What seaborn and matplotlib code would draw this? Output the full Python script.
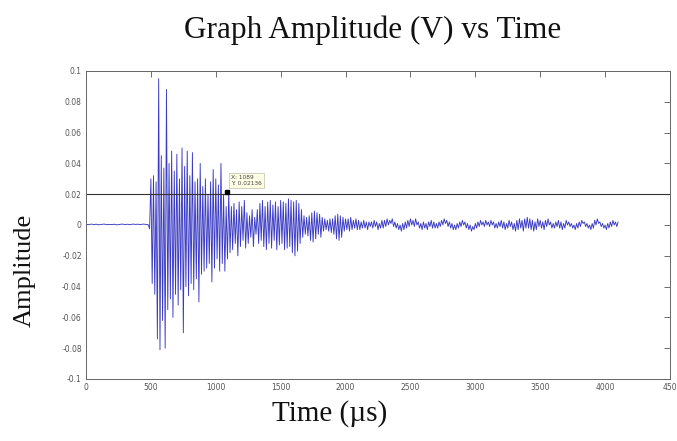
import numpy as np
import pandas as pd
import matplotlib
matplotlib.use("Agg")
import matplotlib.pyplot as plt
import seaborn as sns

# ---------------- data ----------------
# pre-trigger noise, 0..490 us (20 us steps)
t_pre = [0, 20, 40, 60, 80, 100, 120, 140, 160, 180, 200, 220, 240, 260, 280,
         300, 320, 340, 360, 380, 400, 420, 440, 460, 480, 490]
v_pre = [0.0005, 0.0002, 0.0006, 0.0003, 0.0005, 0.0001, 0.0004, 0.0006, 0.0002, 0.0004,
         0.0003, 0.0005, 0.0001, 0.0004, 0.0006, 0.0003, 0.0005, 0.0002, 0.0006, 0.0004,
         0.0005, 0.0003, 0.0006, 0.0004, 0.0002, -0.0025]

# burst, 500..2090 us (10 us steps)
t_burst_start, t_burst_step = 500, 10
v_burst = [
    0.030, -0.038, 0.032, -0.045, 0.028, -0.074, 0.095, -0.081, 0.045, -0.062,   # 500
    0.037, -0.080, 0.088, -0.055, 0.040, -0.048, 0.048, -0.060, 0.035, -0.045,   # 600
    0.046, -0.052, 0.030, -0.042, 0.050, -0.070, 0.038, -0.040, 0.048, -0.046,   # 700
    0.032, -0.038, 0.047, -0.042, 0.028, -0.035, 0.030, -0.050, 0.040, -0.032,   # 800
    0.025, -0.030, 0.030, -0.028, 0.020, -0.025, 0.028, -0.037, 0.036, -0.028,   # 900
    0.030, -0.022, 0.026, -0.030, 0.040, -0.025, 0.020, -0.030, 0.012, -0.022,   # 1000
    0.021, -0.018, 0.012, -0.016, 0.014, -0.012, 0.010, -0.020, 0.015, -0.014,   # 1100
    0.012, -0.010, 0.016, -0.015, 0.008, -0.012, 0.006, -0.008, 0.010, -0.014,   # 1200
    0.005, -0.006, 0.010, -0.012, 0.014, -0.010, 0.016, -0.014, 0.012, -0.016,   # 1300
    0.015, -0.012, 0.016, -0.015, 0.013, -0.010, 0.015, -0.016, 0.012, -0.013,   # 1400
    0.016, -0.012, 0.015, -0.016, 0.014, -0.015, 0.017, -0.014, 0.016, -0.018,   # 1500
    0.015, -0.020, 0.016, -0.017, 0.014, -0.012, 0.010, -0.008, 0.006, -0.006,   # 1600
    0.005, -0.007, 0.006, -0.010, 0.008, -0.011, 0.009, -0.009, 0.008, -0.006,   # 1700
    0.007, -0.008, 0.005, -0.004, 0.004, -0.003, 0.003, -0.004, 0.004, -0.005,   # 1800
    0.004, -0.006, 0.006, -0.009, 0.007, -0.010, 0.006, -0.008, 0.005, -0.004,   # 1900
    0.004, -0.003, 0.004, -0.004, 0.005, -0.003, 0.003, -0.002, 0.004, -0.003,   # 2000
]

# tail, 2100..4100 us (10 us steps)
t_tail_start, t_tail_step = 2100, 10
v_tail = [
    0.003, -0.003, 0.002, -0.002, 0.003, -0.002, 0.002, -0.003, 0.002, -0.001,   # 2100
    0.002, -0.002, 0.003, -0.001, 0.002, -0.003, 0.001, -0.002, 0.003, -0.002,   # 2200
    0.003, -0.001, 0.004, 0.000, 0.003, 0.001, 0.004, -0.001, 0.002, -0.002,     # 2300
    0.001, -0.003, 0.000, -0.004, 0.001, -0.003, 0.002, -0.002, 0.003, -0.001,   # 2400
    0.004, 0.000, 0.003, -0.001, 0.004, 0.000, 0.002, -0.002, 0.001, -0.003,     # 2500
    0.002, -0.002, 0.001, -0.003, 0.002, -0.001, 0.003, -0.002, 0.002, -0.002,   # 2600
    0.001, -0.002, 0.002, -0.001, 0.003, 0.000, 0.004, 0.001, 0.003, -0.001,     # 2700
    0.002, -0.002, 0.001, -0.003, 0.000, -0.003, 0.001, -0.002, 0.002, -0.001,   # 2800
    0.003, 0.000, 0.002, -0.002, 0.001, -0.003, 0.000, -0.004, -0.001, -0.003,   # 2900
    0.001, -0.002, 0.002, -0.001, 0.003, 0.000, 0.002, -0.001, 0.003, 0.000,     # 3000
    0.002, -0.001, 0.003, 0.000, 0.002, -0.002, 0.001, -0.002, 0.002, -0.001,    # 3100
    0.003, -0.002, 0.002, -0.003, 0.001, -0.002, 0.003, -0.001, 0.002, -0.003,   # 3200
    0.001, -0.004, 0.003, -0.003, 0.004, -0.002, 0.003, -0.004, 0.004, -0.002,   # 3300
    0.005, -0.002, 0.004, -0.003, 0.003, -0.004, 0.002, -0.003, 0.004, -0.001,   # 3400
    0.003, -0.002, 0.002, -0.003, 0.003, -0.001, 0.004, 0.000, 0.002, -0.002,    # 3500
    0.001, -0.002, 0.002, -0.001, 0.003, -0.002, 0.002, -0.003, 0.001, -0.002,   # 3600
    0.003, 0.000, 0.002, -0.001, 0.001, -0.002, 0.000, -0.003, 0.001, -0.002,    # 3700
    0.002, -0.001, 0.003, 0.001, 0.002, -0.001, 0.001, -0.002, 0.000, -0.003,    # 3800
    0.001, -0.002, 0.003, 0.000, 0.004, 0.001, 0.002, -0.001, 0.001, -0.002,     # 3900
    0.000, -0.003, 0.001, -0.002, 0.002, -0.001, 0.003, 0.000, 0.002, -0.001,    # 4000
    0.002,                                                                       # 4100
]

x_ticks = [0, 500, 1000, 1500, 2000, 2500, 3000, 3500, 4000, 4500]
x_tick_labels = ["0", "500", "1000", "1500", "2000", "2500", "3000", "3500", "4000", "450"]
y_ticks = [-0.1, -0.08, -0.06, -0.04, -0.02, 0, 0.02, 0.04, 0.06, 0.08, 0.1]
y_tick_labels = ["-0.1", "-0.08", "-0.06", "-0.04", "-0.02", "0", "0.02", "0.04", "0.06", "0.08", "0.1"]

threshold = 0.02
tip_x, tip_y = 1089, 0.02136

title = "Graph Amplitude (V) vs Time"
x_label = "Time (\u00b5s)"
y_label = "Amplitude"

# ---------------- build table ----------------
t_burst = [t_burst_start + i * t_burst_step for i in range(len(v_burst))]
t_tail = [t_tail_start + i * t_tail_step for i in range(len(v_tail))]
df = pd.DataFrame({
    "time": list(t_pre) + t_burst + t_tail,
    "amp": list(v_pre) + v_burst + v_tail,
})

# ---------------- plot ----------------
sns.set_style("white")
plt.rcParams["font.family"] = ["DejaVu Sans"]

fig = plt.figure(figsize=(6.77, 4.41), dpi=100)
ax = fig.add_axes([86 / 677, 1 - 379 / 441, 584 / 677, 308 / 441])

sns.lineplot(data=df, x="time", y="amp", ax=ax, estimator=None, sort=False,
             color="#3a3ac4", linewidth=0.65)

ax.axhline(threshold, color="#333333", linewidth=0.8)

ax.plot([tip_x], [tip_y], marker="s", color="black", markersize=3.5, linestyle="none")
ax.text(tip_x + 30, 0.0252, f"X: {tip_x}\nY: {tip_y}", fontsize=4.2, color="#444444",
        va="bottom", ha="left", linespacing=1.4,
        bbox=dict(boxstyle="square,pad=0.35", fc="#ffffe6", ec="#bdbdaa", lw=0.5))

ax.set_xlim(0, 4500)
ax.set_ylim(-0.1, 0.1)
ax.set_xticks(x_ticks)
ax.set_xticklabels(x_tick_labels)
ax.set_yticks(y_ticks)
ax.set_yticklabels(y_tick_labels)
ax.tick_params(direction="in", length=4, width=0.6, colors="#555555", labelsize=5.5,
               top=True, right=True, pad=3)
for s in ax.spines.values():
    s.set_color("#666666")
    s.set_linewidth(0.7)
ax.set_xlabel("")
ax.set_ylabel("")

serif = ["Liberation Serif", "DejaVu Serif"]
fig.text(373 / 677, 1 - 30 / 441, title, ha="center", va="center", fontsize=22.5,
         family=serif, color="#111111")
fig.text(330 / 677, 1 - 414 / 441, x_label, ha="center", va="center", fontsize=21,
         family=serif, color="#111111")
fig.text(25 / 677, 1 - 270 / 441, y_label, ha="center", va="center", fontsize=19,
         rotation=90, family=serif, color="#111111")

fig.savefig("out.png", dpi=100, facecolor="white")
